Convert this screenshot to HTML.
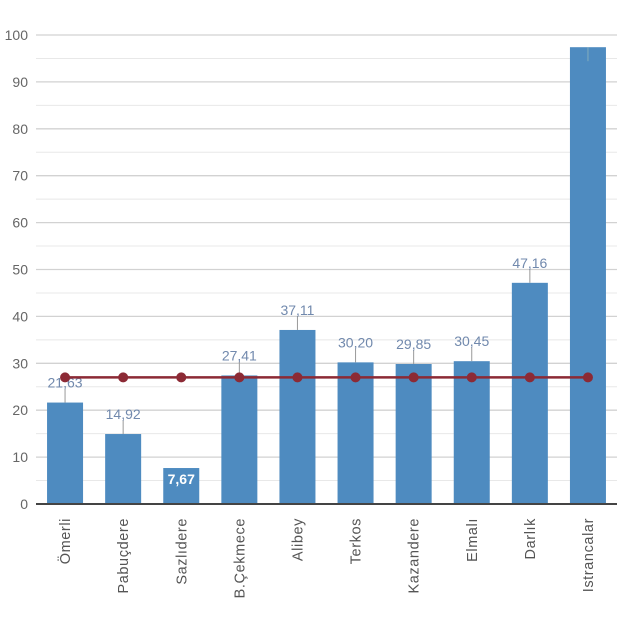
<!DOCTYPE html>
<html><head><meta charset="utf-8"><style>
html,body{margin:0;padding:0;background:#fff;}
svg{display:block;font-family:"Liberation Sans",sans-serif;}
</style></head><body>
<svg id="chart" width="640" height="628"></svg>
<script>
const categories=["Ömerli","Pabuçdere","Sazlıdere","B.Çekmece","Alibey","Terkos","Kazandere","Elmalı","Darlık","Istrancalar"];
const values=[21.63,14.92,7.67,27.41,37.11,30.20,29.85,30.45,47.16,97.4];
const valueLabels=["21,63","14,92","7,67","27,41","37,11","30,20","29,85","30,45","47,16",""];
const average=[27,27,27,27,27,27,27,27,27,27];
const ticks=[0,10,20,30,40,50,60,70,80,90,100];
const NS="http://www.w3.org/2000/svg";
const svg=document.getElementById('chart');
const x0=36,x1=617,y0=504,y1=35,step=58.1;
const yS=v=>y0-(v/100)*(y0-y1);
const xS=i=>x0+step*(i+0.5);
function mk(t,a,p){const e=document.createElementNS(NS,t);for(const k in a)e.setAttribute(k,a[k]);(p||svg).appendChild(e);return e;}
for(let v=5;v<=100;v+=10){const l=mk('line',{x1:x0,x2:x1,y1:yS(v),y2:yS(v),stroke:'#e8e8e8','stroke-width':1});

}
ticks.forEach(v=>{
 const l=mk('line',{x1:x0,x2:x1,y1:yS(v),y2:yS(v),stroke:'#d2d2d2','stroke-width':1.3});
 
 
 const t=mk('text',{x:28,y:yS(v)+5,'text-anchor':'end','font-size':14,fill:'#666'});t.textContent=v;
 
 
});
values.forEach((v,i)=>{
 const cx=xS(i),w=36;
 const r=mk('rect',{x:cx-w/2,y:yS(v),width:w,height:y0-yS(v),fill:'#4e8bc0'});
 
 
 if(valueLabels[i]){
  if(v<10){
   const t=mk('text',{x:cx,y:yS(v)+16,'text-anchor':'middle','font-size':14,'font-weight':'bold',fill:'#fff'});t.textContent=valueLabels[i];
   
   
  }else{
   const ll=mk('line',{x1:cx,x2:cx,y1:yS(v),y2:yS(v)-14,stroke:'#999','stroke-width':1});
   
   
   const t=mk('text',{x:cx,y:yS(v)-15,'text-anchor':'middle','font-size':14,fill:'#7189ad'});t.textContent=valueLabels[i];
   
   
  }
 } else {
  const ll=mk('line',{x1:cx,x2:cx,y1:yS(v),y2:yS(v)+14,stroke:'#9bb',opacity:0.7,'stroke-width':1});
  
  
 }
 const c=mk('text',{transform:`translate(${cx+5},518) rotate(-90)`,'text-anchor':'end','font-size':14.5,'letter-spacing':'0.6',fill:'#555'});c.textContent=categories[i];
 
 
});
const ax=mk('line',{x1:x0,x2:x1,y1:y0,y2:y0,stroke:'#444','stroke-width':2});


const pts=average.map((v,i)=>xS(i)+','+yS(v)).join(' ');
const pl=mk('polyline',{points:pts,fill:'none',stroke:'#8c2a35','stroke-width':2.5});


average.forEach((v,i)=>{const d=mk('circle',{cx:xS(i),cy:yS(v),r:5,fill:'#8c2a35'});
 
 });
</script>
</body></html>
